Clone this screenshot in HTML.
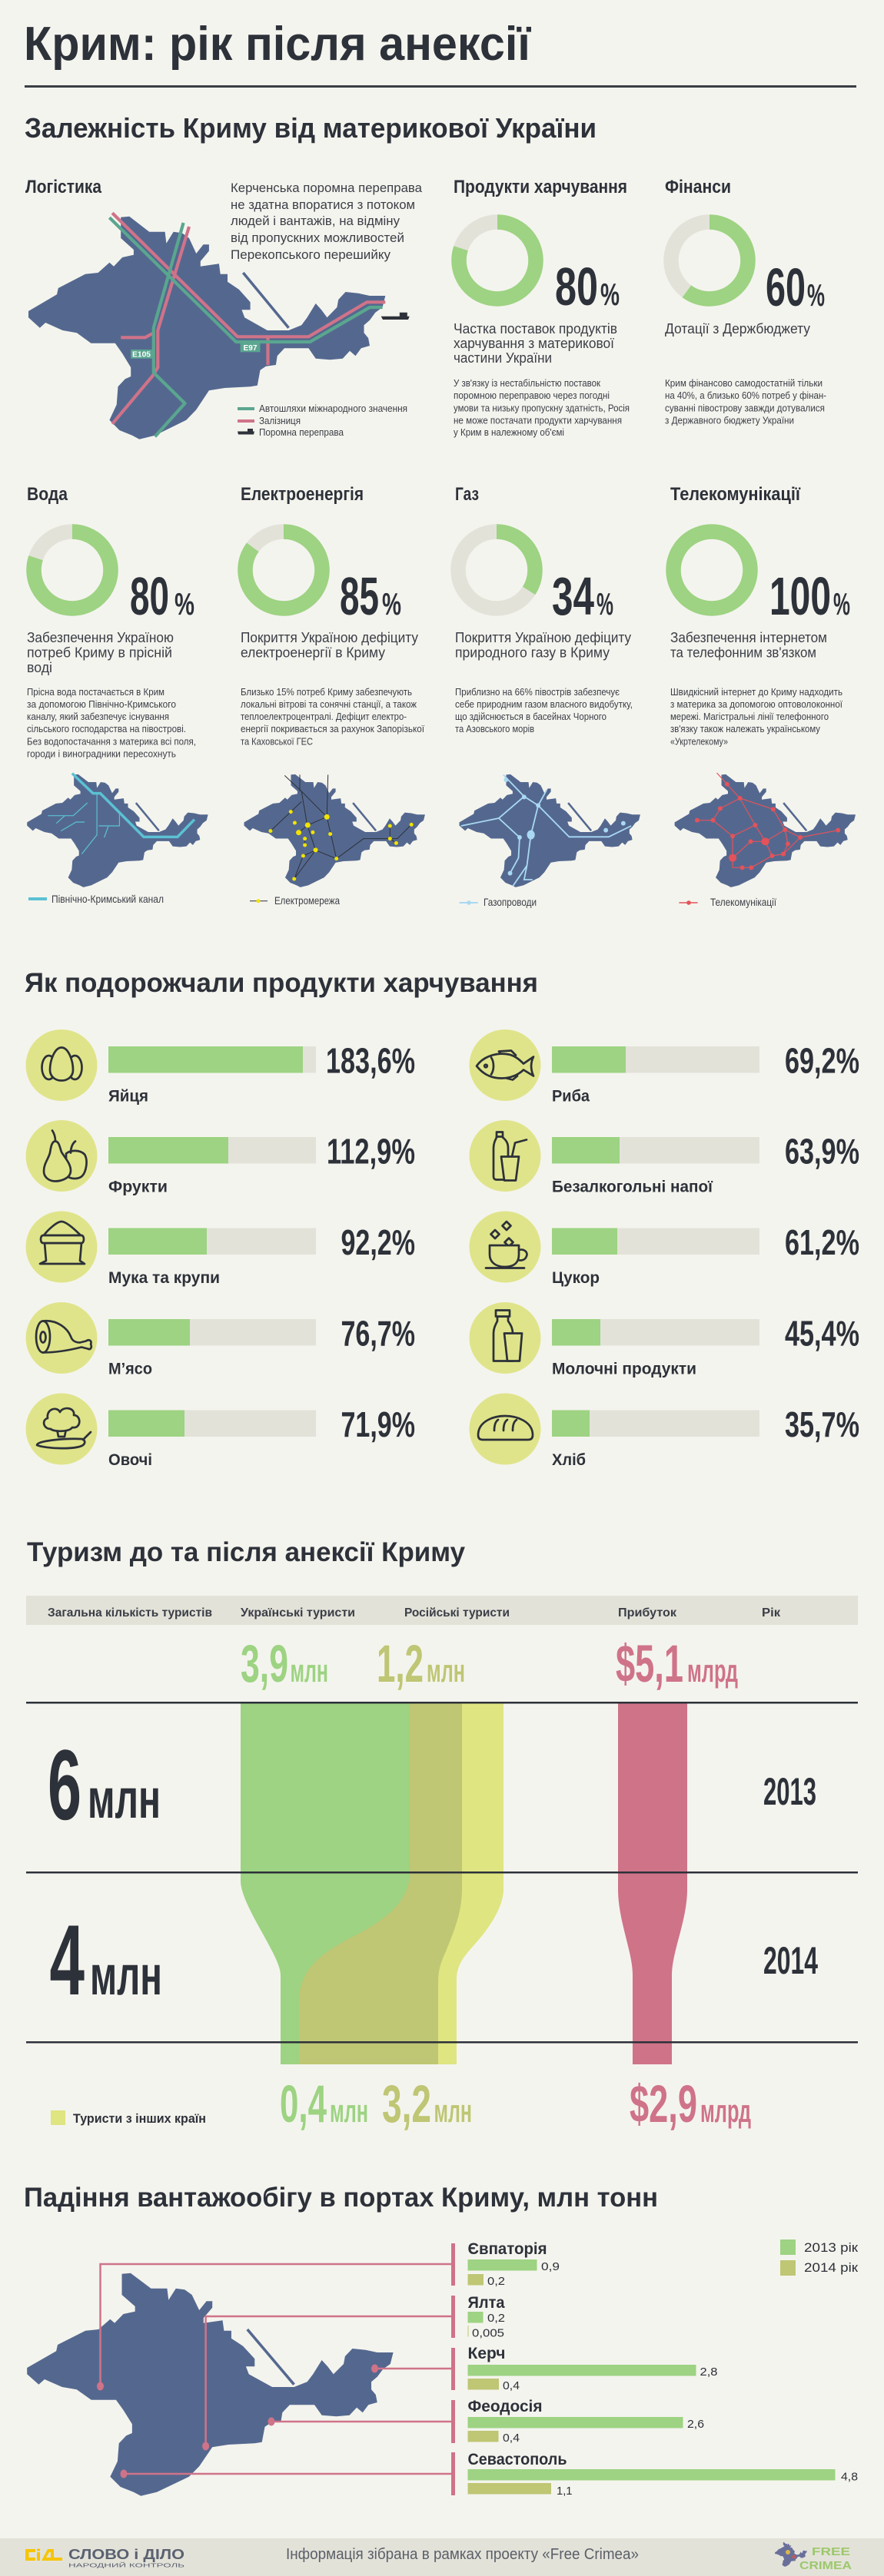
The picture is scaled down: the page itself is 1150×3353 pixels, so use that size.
<!DOCTYPE html>
<html><head><meta charset="utf-8">
<style>
html,body{margin:0;padding:0;background:#f4f4ee;}
svg{display:block;}
text{font-family:"Liberation Sans","DejaVu Sans",sans-serif;}
</style></head>
<body>
<svg xmlns="http://www.w3.org/2000/svg" width="1150" height="3353" viewBox="0 0 1150 3353">
<rect width="1150" height="3353" fill="#f4f4ee"/>

<!-- HEADER -->
<g fill="#2d3139" font-weight="bold">
<text x="31" y="78" font-size="62" textLength="659" lengthAdjust="spacingAndGlyphs">Крим: рік після анексії</text>
<text x="32" y="179" font-size="36" textLength="744" lengthAdjust="spacingAndGlyphs">Залежність Криму від материкової України</text>
<text x="33" y="251" font-size="24" textLength="99" lengthAdjust="spacingAndGlyphs">Логістика</text>
<text x="590" y="251" font-size="24" textLength="226" lengthAdjust="spacingAndGlyphs">Продукти харчування</text>
<text x="865" y="251" font-size="24" textLength="86" lengthAdjust="spacingAndGlyphs">Фінанси</text>
</g>
<rect x="32" y="111" width="1082" height="3" fill="#3a3e46"/>

<!-- Logistics paragraph -->
<g fill="#3a3e46" font-size="17">
<text x="300" y="250" textLength="249" lengthAdjust="spacingAndGlyphs">Керченська поромна переправа</text>
<text x="300" y="272" textLength="240" lengthAdjust="spacingAndGlyphs">не здатна впоратися з потоком</text>
<text x="300" y="293" textLength="220" lengthAdjust="spacingAndGlyphs">людей і вантажів, на відміну</text>
<text x="300" y="315" textLength="226" lengthAdjust="spacingAndGlyphs">від пропускних можливостей</text>
<text x="300" y="337" textLength="208" lengthAdjust="spacingAndGlyphs">Перекопського перешийку</text>
</g>

<!-- BIG MAP -->
<path fill="#54688f" d="M157.2,282.7 L168.3,281.7 L194.2,301.7 L214.6,301.7 L216.4,316.7 L225.7,301.7 L236.8,303.3 L246,310 L255.3,330 L264.5,318.3 L271.9,318.3 L271.9,326.7 L260.8,340 L260.8,346.7 L284.9,343.3 L286.7,356.7 L296,356.7 L296,366.7 L310.8,376.7 L325.6,393.3 L325.6,403.3 L314.5,403.3 L318.2,413.3 L347.8,430 L375.5,430 L392.2,423.3 L399.6,413.3 L410.7,395 L418.1,403.3 L425.5,413.3 L438.4,400 L440.2,390 L449.5,380 L466.2,381.7 L481,385 L501.3,385 L497.6,400 L488.3,406.7 L481,416.7 L473.5,423.3 L473.5,433.3 L479.1,440 L481,450 L469.8,453.3 L462.5,463.3 L455,456.7 L445.8,466.7 L429.2,468.3 L410.7,466.7 L401.4,453.3 L370,453.3 L360.7,463.3 L358.9,475 L345.9,476.7 L338.5,481.7 L334.8,501.7 L325.6,503.3 L292.3,505 L271.9,508.3 L255.3,533.3 L242.3,546.7 L222,556.7 L201.6,566.7 L181.3,571.7 L172,566.7 L155.4,560 L142.4,546.7 L151.7,526.7 L153.5,503.3 L162.8,493.3 L170.2,490 L170.2,478.3 L159.1,460 L149.8,446.7 L118.4,446.7 L99.9,433.3 L81.4,430 L59.2,420 L51.8,426.7 L37,413.3 L37,405 L74,383.3 L75.8,375 L111,356.7 L127.6,355 L142.4,341.7 L148,346.7 L159.1,335 L173.9,331.7 L173.9,325 L157.2,310 Z"/>
<line x1="316.3" y1="355" x2="375.5" y2="426.7" stroke="#54688f" stroke-width="3.5"/>
<g fill="none" stroke-width="4.2" stroke-linejoin="round">
<polyline stroke="#cf7389" points="146.1,277.3 308.9,438.3 401.4,438.3 477.2,393.3 501.3,393.3"/>
<polyline stroke="#cf7389" points="246,295 205.3,430 205.3,478.3 197.9,490 146.1,551.7"/>
<polyline stroke="#cf7389" points="157.2,439.3 188.7,439.3 199.8,433.3"/>
<polyline stroke="#cf7389" points="348.5,439.3 348.5,475"/>
<polyline stroke="#5aa68f" points="142.4,283.3 307.1,445 403.3,445 481,400 497.6,400"/>
<polyline stroke="#5aa68f" points="238.6,290 199.8,426.7 199.8,485 240.5,525 201.6,568.3"/>
</g>
<rect x="170.2" y="455" width="27.7" height="11.7" fill="#5aa68f"/>
<text x="184" y="464.5" font-size="10" font-weight="bold" fill="#fff" text-anchor="middle" textLength="24" lengthAdjust="spacingAndGlyphs">E105</text>
<rect x="312.6" y="446.7" width="25.9" height="11.6" fill="#5aa68f"/>
<text x="325.5" y="456" font-size="10" font-weight="bold" fill="#fff" text-anchor="middle" textLength="18" lengthAdjust="spacingAndGlyphs">E97</text>
<path d="M495.7,411.7 H532.7 L531,416 H498 Z M519.8,406.7 H529.8 V411.7 H519.8 Z" fill="#2d3139"/>
<line x1="309" y1="532" x2="331" y2="532" stroke="#5aa68f" stroke-width="4"/>
<line x1="309" y1="548" x2="331" y2="548" stroke="#cf7389" stroke-width="4"/>
<path d="M309,561.5 H331 L330,565.5 H310 Z M322,558 H329 V561.5 H322 Z" fill="#2d3139"/>
<g fill="#3a3e46" font-size="13">
<text x="337" y="536" textLength="193" lengthAdjust="spacingAndGlyphs">Автошляхи міжнародного значення</text>
<text x="337" y="552" textLength="54" lengthAdjust="spacingAndGlyphs">Залізниця</text>
<text x="337" y="567" textLength="110" lengthAdjust="spacingAndGlyphs">Поромна переправа</text>
</g>

<!-- DONUTS TOP -->
<g fill="none" stroke-width="19.5">
<circle cx="647" cy="339" r="50" stroke="#e3e2d9"/>
<circle cx="647" cy="339" r="50" stroke="#9dd382" stroke-dasharray="251.3 314.2" transform="rotate(-90 647 339)"/>
<circle cx="923" cy="339" r="50" stroke="#e3e2d9"/>
<circle cx="923" cy="339" r="50" stroke="#9dd382" stroke-dasharray="188.5 314.2" transform="rotate(-90 923 339)"/>
</g>
<g fill="#2d3139" font-weight="bold">
<text x="722" y="397" font-size="70" textLength="56" lengthAdjust="spacingAndGlyphs">80</text>
<text x="781" y="397" font-size="41" textLength="25" lengthAdjust="spacingAndGlyphs">%</text>
<text x="996" y="398" font-size="70" textLength="52" lengthAdjust="spacingAndGlyphs">60</text>
<text x="1050" y="398" font-size="41" textLength="23" lengthAdjust="spacingAndGlyphs">%</text>
</g>
<g fill="#3a3e46" font-size="18">
<text x="590" y="434" textLength="213" lengthAdjust="spacingAndGlyphs">Частка поставок продуктів</text>
<text x="590" y="453" textLength="209" lengthAdjust="spacingAndGlyphs">харчування з материкової</text>
<text x="590" y="472" textLength="128" lengthAdjust="spacingAndGlyphs">частини України</text>
<text x="865" y="434" textLength="189" lengthAdjust="spacingAndGlyphs">Дотації з Держбюджету</text>
</g>
<g fill="#3a3e46" font-size="12.5">
<text x="590" y="503" textLength="191" lengthAdjust="spacingAndGlyphs">У зв'язку із нестабільністю поставок</text>
<text x="590" y="519" textLength="203" lengthAdjust="spacingAndGlyphs">поромною переправою через погодні</text>
<text x="590" y="535.5" textLength="229" lengthAdjust="spacingAndGlyphs">умови та низьку пропускну здатність, Росія</text>
<text x="590" y="551.5" textLength="219" lengthAdjust="spacingAndGlyphs">не може постачати продукти харчування</text>
<text x="590" y="567" textLength="144" lengthAdjust="spacingAndGlyphs">у Крим в належному об'ємі</text>
<text x="865" y="503" textLength="205" lengthAdjust="spacingAndGlyphs">Крим фінансово самодостатній тільки</text>
<text x="865" y="519" textLength="210" lengthAdjust="spacingAndGlyphs">на 40%, а близько 60% потреб у фінан-</text>
<text x="865" y="535.5" textLength="208" lengthAdjust="spacingAndGlyphs">суванні півострову завжди дотувалися</text>
<text x="865" y="551.5" textLength="168" lengthAdjust="spacingAndGlyphs">з Державного бюджету України</text>
</g>

<!-- BOTTOM ROW -->
<g fill="#2d3139" font-weight="bold" font-size="24">
<text x="35" y="651" textLength="53" lengthAdjust="spacingAndGlyphs">Вода</text>
<text x="313" y="651" textLength="160" lengthAdjust="spacingAndGlyphs">Електроенергія</text>
<text x="592" y="651" textLength="31" lengthAdjust="spacingAndGlyphs">Газ</text>
<text x="872" y="651" textLength="169" lengthAdjust="spacingAndGlyphs">Телекомунікації</text>
</g>
<g fill="none" stroke-width="19.5">
<circle cx="94" cy="742" r="50" stroke="#e3e2d9"/>
<circle cx="94" cy="742" r="50" stroke="#9dd382" stroke-dasharray="251.3 314.2" transform="rotate(-90 94 742)"/>
<circle cx="369" cy="742" r="50" stroke="#e3e2d9"/>
<circle cx="369" cy="742" r="50" stroke="#9dd382" stroke-dasharray="267 314.2" transform="rotate(-90 369 742)"/>
<circle cx="646" cy="742" r="50" stroke="#e3e2d9"/>
<circle cx="646" cy="742" r="50" stroke="#9dd382" stroke-dasharray="106.8 314.2" transform="rotate(-90 646 742)"/>
<circle cx="926" cy="742" r="50" stroke="#9dd382"/>
</g>
<g fill="#2d3139" font-weight="bold">
<text x="169" y="800" font-size="70" textLength="51" lengthAdjust="spacingAndGlyphs">80</text>
<text x="227" y="800" font-size="41" textLength="26" lengthAdjust="spacingAndGlyphs">%</text>
<text x="442" y="800" font-size="70" textLength="51" lengthAdjust="spacingAndGlyphs">85</text>
<text x="497" y="800" font-size="41" textLength="25" lengthAdjust="spacingAndGlyphs">%</text>
<text x="718" y="800" font-size="70" textLength="55" lengthAdjust="spacingAndGlyphs">34</text>
<text x="776" y="800" font-size="41" textLength="22" lengthAdjust="spacingAndGlyphs">%</text>
<text x="1001" y="800" font-size="70" textLength="80" lengthAdjust="spacingAndGlyphs">100</text>
<text x="1084" y="800" font-size="41" textLength="22" lengthAdjust="spacingAndGlyphs">%</text>
</g>
<g fill="#3a3e46" font-size="18">
<text x="35" y="836" textLength="191" lengthAdjust="spacingAndGlyphs">Забезпечення Україною</text>
<text x="35" y="855.5" textLength="189" lengthAdjust="spacingAndGlyphs">потреб Криму в прісній</text>
<text x="35" y="875" textLength="33" lengthAdjust="spacingAndGlyphs">воді</text>
<text x="313" y="836" textLength="231" lengthAdjust="spacingAndGlyphs">Покриття Україною дефіциту</text>
<text x="313" y="855.5" textLength="188" lengthAdjust="spacingAndGlyphs">електроенергії в Криму</text>
<text x="592" y="836" textLength="229" lengthAdjust="spacingAndGlyphs">Покриття Україною дефіциту</text>
<text x="592" y="855.5" textLength="201" lengthAdjust="spacingAndGlyphs">природного газу в Криму</text>
<text x="872" y="836" textLength="204" lengthAdjust="spacingAndGlyphs">Забезпечення інтернетом</text>
<text x="872" y="855.5" textLength="190" lengthAdjust="spacingAndGlyphs">та телефонним зв'язком</text>
</g>
<g fill="#3a3e46" font-size="12.5">
<text x="35" y="905" textLength="179" lengthAdjust="spacingAndGlyphs">Прісна вода постачається в Крим</text>
<text x="35" y="921" textLength="194" lengthAdjust="spacingAndGlyphs">за допомогою Північно-Кримського</text>
<text x="35" y="937" textLength="185" lengthAdjust="spacingAndGlyphs">каналу, який забезпечує існування</text>
<text x="35" y="953" textLength="207" lengthAdjust="spacingAndGlyphs">сільського господарства на півострові.</text>
<text x="35" y="969.5" textLength="220" lengthAdjust="spacingAndGlyphs">Без водопостачання з материка всі поля,</text>
<text x="35" y="985.5" textLength="194" lengthAdjust="spacingAndGlyphs">городи і виноградники пересохнуть</text>
<text x="313" y="905" textLength="223" lengthAdjust="spacingAndGlyphs">Близько 15% потреб Криму забезпечують</text>
<text x="313" y="921" textLength="229" lengthAdjust="spacingAndGlyphs">локальні вітрові та сонячні станції, а також</text>
<text x="313" y="937" textLength="216" lengthAdjust="spacingAndGlyphs">теплоелектроцентралі. Дефіцит електро-</text>
<text x="313" y="953" textLength="239" lengthAdjust="spacingAndGlyphs">енергії покривається за рахунок Запорізької</text>
<text x="313" y="969.5" textLength="94" lengthAdjust="spacingAndGlyphs">та Каховської ГЕС</text>
<text x="592" y="905" textLength="214" lengthAdjust="spacingAndGlyphs">Приблизно на 66% півострів забезпечує</text>
<text x="592" y="921" textLength="231" lengthAdjust="spacingAndGlyphs">себе природним газом власного видобутку,</text>
<text x="592" y="937" textLength="197" lengthAdjust="spacingAndGlyphs">що здійснюється в басейнах Чорного</text>
<text x="592" y="953" textLength="103" lengthAdjust="spacingAndGlyphs">та Азовського морів</text>
<text x="872" y="905" textLength="224" lengthAdjust="spacingAndGlyphs">Швидкісний інтернет до Криму надходить</text>
<text x="872" y="921" textLength="224" lengthAdjust="spacingAndGlyphs">з материка за допомогою оптоволоконної</text>
<text x="872" y="937" textLength="206" lengthAdjust="spacingAndGlyphs">мережі. Магістральні лінії телефонного</text>
<text x="872" y="953" textLength="195" lengthAdjust="spacingAndGlyphs">зв'язку також належать українському</text>
<text x="872" y="969.5" textLength="75" lengthAdjust="spacingAndGlyphs">«Укртелекому»</text>
</g>

<!-- SMALL MAPS -->
<g transform="translate(35.2,1008) scale(0.507) translate(-37,-282)">
<path d="M157.2,282.7 L168.3,281.7 L194.2,301.7 L214.6,301.7 L216.4,316.7 L225.7,301.7 L236.8,303.3 L246,310 L255.3,330 L264.5,318.3 L271.9,318.3 L271.9,326.7 L260.8,340 L260.8,346.7 L284.9,343.3 L286.7,356.7 L296,356.7 L296,366.7 L310.8,376.7 L325.6,393.3 L325.6,403.3 L314.5,403.3 L318.2,413.3 L347.8,430 L375.5,430 L392.2,423.3 L399.6,413.3 L410.7,395 L418.1,403.3 L425.5,413.3 L438.4,400 L440.2,390 L449.5,380 L466.2,381.7 L481,385 L501.3,385 L497.6,400 L488.3,406.7 L481,416.7 L473.5,423.3 L473.5,433.3 L479.1,440 L481,450 L469.8,453.3 L462.5,463.3 L455,456.7 L445.8,466.7 L429.2,468.3 L410.7,466.7 L401.4,453.3 L370,453.3 L360.7,463.3 L358.9,475 L345.9,476.7 L338.5,481.7 L334.8,501.7 L325.6,503.3 L292.3,505 L271.9,508.3 L255.3,533.3 L242.3,546.7 L222,556.7 L201.6,566.7 L181.3,571.7 L172,566.7 L155.4,560 L142.4,546.7 L151.7,526.7 L153.5,503.3 L162.8,493.3 L170.2,490 L170.2,478.3 L159.1,460 L149.8,446.7 L118.4,446.7 L99.9,433.3 L81.4,430 L59.2,420 L51.8,426.7 L37,413.3 L37,405 L74,383.3 L75.8,375 L111,356.7 L127.6,355 L142.4,341.7 L148,346.7 L159.1,335 L173.9,331.7 L173.9,325 L157.2,310 Z" fill="#54688f"/>
<line x1="316.3" y1="355" x2="375.5" y2="426.7" stroke="#54688f" stroke-width="5"/>
</g>
<g transform="translate(317.5,1008) scale(0.507) translate(-37,-282)">
<path d="M157.2,282.7 L168.3,281.7 L194.2,301.7 L214.6,301.7 L216.4,316.7 L225.7,301.7 L236.8,303.3 L246,310 L255.3,330 L264.5,318.3 L271.9,318.3 L271.9,326.7 L260.8,340 L260.8,346.7 L284.9,343.3 L286.7,356.7 L296,356.7 L296,366.7 L310.8,376.7 L325.6,393.3 L325.6,403.3 L314.5,403.3 L318.2,413.3 L347.8,430 L375.5,430 L392.2,423.3 L399.6,413.3 L410.7,395 L418.1,403.3 L425.5,413.3 L438.4,400 L440.2,390 L449.5,380 L466.2,381.7 L481,385 L501.3,385 L497.6,400 L488.3,406.7 L481,416.7 L473.5,423.3 L473.5,433.3 L479.1,440 L481,450 L469.8,453.3 L462.5,463.3 L455,456.7 L445.8,466.7 L429.2,468.3 L410.7,466.7 L401.4,453.3 L370,453.3 L360.7,463.3 L358.9,475 L345.9,476.7 L338.5,481.7 L334.8,501.7 L325.6,503.3 L292.3,505 L271.9,508.3 L255.3,533.3 L242.3,546.7 L222,556.7 L201.6,566.7 L181.3,571.7 L172,566.7 L155.4,560 L142.4,546.7 L151.7,526.7 L153.5,503.3 L162.8,493.3 L170.2,490 L170.2,478.3 L159.1,460 L149.8,446.7 L118.4,446.7 L99.9,433.3 L81.4,430 L59.2,420 L51.8,426.7 L37,413.3 L37,405 L74,383.3 L75.8,375 L111,356.7 L127.6,355 L142.4,341.7 L148,346.7 L159.1,335 L173.9,331.7 L173.9,325 L157.2,310 Z" fill="#54688f"/>
<line x1="316.3" y1="355" x2="375.5" y2="426.7" stroke="#54688f" stroke-width="5"/>
</g>
<g transform="translate(597.5,1008) scale(0.507) translate(-37,-282)">
<path d="M157.2,282.7 L168.3,281.7 L194.2,301.7 L214.6,301.7 L216.4,316.7 L225.7,301.7 L236.8,303.3 L246,310 L255.3,330 L264.5,318.3 L271.9,318.3 L271.9,326.7 L260.8,340 L260.8,346.7 L284.9,343.3 L286.7,356.7 L296,356.7 L296,366.7 L310.8,376.7 L325.6,393.3 L325.6,403.3 L314.5,403.3 L318.2,413.3 L347.8,430 L375.5,430 L392.2,423.3 L399.6,413.3 L410.7,395 L418.1,403.3 L425.5,413.3 L438.4,400 L440.2,390 L449.5,380 L466.2,381.7 L481,385 L501.3,385 L497.6,400 L488.3,406.7 L481,416.7 L473.5,423.3 L473.5,433.3 L479.1,440 L481,450 L469.8,453.3 L462.5,463.3 L455,456.7 L445.8,466.7 L429.2,468.3 L410.7,466.7 L401.4,453.3 L370,453.3 L360.7,463.3 L358.9,475 L345.9,476.7 L338.5,481.7 L334.8,501.7 L325.6,503.3 L292.3,505 L271.9,508.3 L255.3,533.3 L242.3,546.7 L222,556.7 L201.6,566.7 L181.3,571.7 L172,566.7 L155.4,560 L142.4,546.7 L151.7,526.7 L153.5,503.3 L162.8,493.3 L170.2,490 L170.2,478.3 L159.1,460 L149.8,446.7 L118.4,446.7 L99.9,433.3 L81.4,430 L59.2,420 L51.8,426.7 L37,413.3 L37,405 L74,383.3 L75.8,375 L111,356.7 L127.6,355 L142.4,341.7 L148,346.7 L159.1,335 L173.9,331.7 L173.9,325 L157.2,310 Z" fill="#54688f"/>
<line x1="316.3" y1="355" x2="375.5" y2="426.7" stroke="#54688f" stroke-width="5"/>
</g>
<g transform="translate(877.6,1008) scale(0.507) translate(-37,-282)">
<path d="M157.2,282.7 L168.3,281.7 L194.2,301.7 L214.6,301.7 L216.4,316.7 L225.7,301.7 L236.8,303.3 L246,310 L255.3,330 L264.5,318.3 L271.9,318.3 L271.9,326.7 L260.8,340 L260.8,346.7 L284.9,343.3 L286.7,356.7 L296,356.7 L296,366.7 L310.8,376.7 L325.6,393.3 L325.6,403.3 L314.5,403.3 L318.2,413.3 L347.8,430 L375.5,430 L392.2,423.3 L399.6,413.3 L410.7,395 L418.1,403.3 L425.5,413.3 L438.4,400 L440.2,390 L449.5,380 L466.2,381.7 L481,385 L501.3,385 L497.6,400 L488.3,406.7 L481,416.7 L473.5,423.3 L473.5,433.3 L479.1,440 L481,450 L469.8,453.3 L462.5,463.3 L455,456.7 L445.8,466.7 L429.2,468.3 L410.7,466.7 L401.4,453.3 L370,453.3 L360.7,463.3 L358.9,475 L345.9,476.7 L338.5,481.7 L334.8,501.7 L325.6,503.3 L292.3,505 L271.9,508.3 L255.3,533.3 L242.3,546.7 L222,556.7 L201.6,566.7 L181.3,571.7 L172,566.7 L155.4,560 L142.4,546.7 L151.7,526.7 L153.5,503.3 L162.8,493.3 L170.2,490 L170.2,478.3 L159.1,460 L149.8,446.7 L118.4,446.7 L99.9,433.3 L81.4,430 L59.2,420 L51.8,426.7 L37,413.3 L37,405 L74,383.3 L75.8,375 L111,356.7 L127.6,355 L142.4,341.7 L148,346.7 L159.1,335 L173.9,331.7 L173.9,325 L157.2,310 Z" fill="#54688f"/>
<line x1="316.3" y1="355" x2="375.5" y2="426.7" stroke="#54688f" stroke-width="5"/>
</g>

<g transform="translate(0,990) scale(0.73314,0.33333)" fill="none">
<polyline vector-effect="non-scaling-stroke" stroke="#5bc1d3" stroke-width="3.5" points="128,50 165,128 178,128 255,298 315,298 345,230"/>
<g stroke="#5bc1d3" stroke-width="1.2">
<polyline vector-effect="non-scaling-stroke" points="172,128 172,290 145,365"/>
<polyline vector-effect="non-scaling-stroke" points="85,215 130,215 155,165"/>
<polyline vector-effect="non-scaling-stroke" points="100,245 115,215"/>
<polyline vector-effect="non-scaling-stroke" points="108,275 135,240 150,240"/>
<polyline vector-effect="non-scaling-stroke" points="175,255 212,255 212,200"/>
<polyline vector-effect="non-scaling-stroke" points="185,300 192,258"/>
</g>
<g stroke="#2d3139" stroke-width="1">
<polyline vector-effect="non-scaling-stroke" points="505,58 535,120 580,220 597,383"/>
<polyline vector-effect="non-scaling-stroke" points="532,55 532,120"/>
<polyline vector-effect="non-scaling-stroke" points="582,55 580,220"/>
<polyline vector-effect="non-scaling-stroke" points="535,120 545,250 560,350 522,462"/>
<polyline vector-effect="non-scaling-stroke" points="480,275 516,200 535,160"/>
<polyline vector-effect="non-scaling-stroke" points="580,220 546,252 530,281"/>
<polyline vector-effect="non-scaling-stroke" points="560,350 538,372 522,462"/>
<polyline vector-effect="non-scaling-stroke" points="560,350 597,383 645,305 705,305 730,250"/>
<polyline vector-effect="non-scaling-stroke" points="692,255 692,305 703,322"/>
<polyline vector-effect="non-scaling-stroke" points="541,305 541,330"/>
</g>
<g fill="#f2e300">
<ellipse cx="516" cy="200" rx="3.4" ry="7.5"/><ellipse cx="523" cy="243" rx="3.4" ry="7.5"/>
<ellipse cx="546" cy="252" rx="4.8" ry="10.5"/><ellipse cx="530" cy="281" rx="4.8" ry="10.5"/>
<ellipse cx="555" cy="280" rx="3.4" ry="7.5"/><ellipse cx="541" cy="305" rx="3.4" ry="7.5"/>
<ellipse cx="541" cy="330" rx="3.4" ry="7.5"/><ellipse cx="560" cy="349" rx="4.1" ry="9"/>
<ellipse cx="538" cy="372" rx="3.4" ry="7.5"/><ellipse cx="597" cy="383" rx="3.4" ry="7.5"/>
<ellipse cx="522" cy="462" rx="3.4" ry="7.5"/><ellipse cx="480" cy="275" rx="3.4" ry="7.5"/>
<ellipse cx="580" cy="220" rx="4.8" ry="10.5"/><ellipse cx="586" cy="287" rx="3.4" ry="7.5"/>
<ellipse cx="692" cy="255" rx="3.4" ry="7.5"/><ellipse cx="692" cy="305" rx="3.4" ry="7.5"/>
<ellipse cx="703" cy="322" rx="3.4" ry="7.5"/><ellipse cx="730" cy="250" rx="3.4" ry="7.5"/>
</g>
<g stroke="#a9d9f2" stroke-width="1.8">
<polyline vector-effect="non-scaling-stroke" points="893,55 930,140 955,175 970,115"/>
<polyline vector-effect="non-scaling-stroke" points="930,140 885,225 818,255"/>
<polyline vector-effect="non-scaling-stroke" points="885,225 922,300 920,380 905,440"/>
<polyline vector-effect="non-scaling-stroke" points="955,175 942,290 935,410 910,490"/>
<polyline vector-effect="non-scaling-stroke" points="955,175 1010,298 1080,298 1120,255"/>
<polyline vector-effect="non-scaling-stroke" points="935,410 930,465 945,465"/>
</g>
<g fill="#a9d9f2">
<ellipse cx="898" cy="75" rx="4" ry="9"/><ellipse cx="930" cy="142" rx="4" ry="9"/>
<ellipse cx="955" cy="175" rx="4" ry="9"/><ellipse cx="942" cy="290" rx="7" ry="18"/>
<ellipse cx="922" cy="300" rx="4" ry="9"/><ellipse cx="905" cy="440" rx="4" ry="9"/>
<ellipse cx="1075" cy="272" rx="4" ry="9"/><ellipse cx="1106" cy="245" rx="4" ry="9"/>
</g>
<g stroke="#e4525a" stroke-width="1.2">
<polyline vector-effect="non-scaling-stroke" points="1272,48 1290,92 1313,147 1372,190 1393,270 1398,325 1390,365"/>
<polyline vector-effect="non-scaling-stroke" points="1313,147 1278,187 1265,233 1237,233"/>
<polyline vector-effect="non-scaling-stroke" points="1313,147 1340,252 1358,316 1370,372"/>
<polyline vector-effect="non-scaling-stroke" points="1265,233 1300,295 1340,252"/>
<polyline vector-effect="non-scaling-stroke" points="1300,295 1300,380 1300,418 1333,418"/>
<polyline vector-effect="non-scaling-stroke" points="1332,316 1300,380"/>
<polyline vector-effect="non-scaling-stroke" points="1332,316 1358,316 1393,270 1420,300 1487,272"/>
<polyline vector-effect="non-scaling-stroke" points="1333,418 1370,372 1390,365 1420,300"/>
</g>
<g fill="#e4525a">
<ellipse cx="1290" cy="92" rx="4" ry="9"/><ellipse cx="1313" cy="147" rx="4" ry="9"/>
<ellipse cx="1278" cy="187" rx="4" ry="9"/><ellipse cx="1265" cy="233" rx="4" ry="9"/>
<ellipse cx="1237" cy="233" rx="4" ry="9"/><ellipse cx="1372" cy="190" rx="4" ry="9"/>
<ellipse cx="1340" cy="252" rx="4" ry="9"/><ellipse cx="1300" cy="295" rx="4" ry="9"/>
<ellipse cx="1358" cy="316" rx="7" ry="15"/><ellipse cx="1332" cy="316" rx="4" ry="9"/>
<ellipse cx="1300" cy="380" rx="7" ry="15"/><ellipse cx="1317" cy="418" rx="4" ry="9"/>
<ellipse cx="1333" cy="418" rx="4" ry="9"/><ellipse cx="1370" cy="372" rx="4" ry="9"/>
<ellipse cx="1390" cy="365" rx="4" ry="9"/><ellipse cx="1398" cy="325" rx="4" ry="9"/>
<ellipse cx="1393" cy="270" rx="4" ry="9"/><ellipse cx="1420" cy="300" rx="4" ry="9"/>
<ellipse cx="1487" cy="272" rx="4" ry="9"/>
</g>
</g>
<line x1="37" y1="1170" x2="61" y2="1170" stroke="#5bc1d3" stroke-width="4"/>
<line x1="325" y1="1172.7" x2="348" y2="1172.7" stroke="#2d3139" stroke-width="1"/>
<circle cx="336" cy="1172.7" r="2.5" fill="#f2e300"/>
<line x1="597.5" y1="1175" x2="621.7" y2="1175" stroke="#a9d9f2" stroke-width="2"/>
<circle cx="610" cy="1175" r="2.8" fill="#a9d9f2"/>
<line x1="883.4" y1="1175" x2="907.6" y2="1175" stroke="#e4525a" stroke-width="1.5"/>
<circle cx="896" cy="1175" r="2.8" fill="#e4525a"/>
<g fill="#3a3e46" font-size="14">
<text x="67" y="1175" textLength="146" lengthAdjust="spacingAndGlyphs">Північно-Кримський канал</text>
<text x="357" y="1177" textLength="85" lengthAdjust="spacingAndGlyphs">Електромережа</text>
<text x="629" y="1179" textLength="69" lengthAdjust="spacingAndGlyphs">Газопроводи</text>
<text x="924" y="1179" textLength="86" lengthAdjust="spacingAndGlyphs">Телекомунікації</text>
</g>

<!-- FOOD SECTION -->
<text x="32" y="1291" font-size="35" font-weight="bold" fill="#2d3139" textLength="668" lengthAdjust="spacingAndGlyphs">Як подорожчали продукти харчування</text>
<g fill="#dfe48a">
<circle cx="80" cy="1386.5" r="46.5"/><circle cx="80" cy="1504.5" r="46.5"/><circle cx="80" cy="1623" r="46.5"/><circle cx="80" cy="1741.5" r="46.5"/><circle cx="80" cy="1860" r="46.5"/>
<circle cx="657" cy="1386.5" r="46.5"/><circle cx="657" cy="1504.5" r="46.5"/><circle cx="657" cy="1623" r="46.5"/><circle cx="657" cy="1741.5" r="46.5"/><circle cx="657" cy="1860" r="46.5"/>
</g>
<g fill="#e3e2d9">
<rect x="141" y="1362" width="270" height="34.5"/><rect x="141" y="1480" width="270" height="34.5"/><rect x="141" y="1598.5" width="270" height="34.5"/><rect x="141" y="1717" width="270" height="34.5"/><rect x="141" y="1835.5" width="270" height="34.5"/>
<rect x="718" y="1362" width="270" height="34.5"/><rect x="718" y="1480" width="270" height="34.5"/><rect x="718" y="1598.5" width="270" height="34.5"/><rect x="718" y="1717" width="270" height="34.5"/><rect x="718" y="1835.5" width="270" height="34.5"/>
</g>
<g fill="#9dd382">
<rect x="141" y="1362" width="253" height="34.5"/><rect x="141" y="1480" width="156" height="34.5"/><rect x="141" y="1598.5" width="128" height="34.5"/><rect x="141" y="1717" width="106" height="34.5"/><rect x="141" y="1835.5" width="99" height="34.5"/>
<rect x="718" y="1362" width="96" height="34.5"/><rect x="718" y="1480" width="88" height="34.5"/><rect x="718" y="1598.5" width="85" height="34.5"/><rect x="718" y="1717" width="63" height="34.5"/><rect x="718" y="1835.5" width="49" height="34.5"/>
</g>
<g fill="#2d3139" font-size="46" font-weight="bold" text-anchor="end">
<text x="540" y="1396.5" textLength="116" lengthAdjust="spacingAndGlyphs">183,6%</text>
<text x="540" y="1514.5" textLength="115" lengthAdjust="spacingAndGlyphs">112,9%</text>
<text x="540" y="1633" textLength="96.5" lengthAdjust="spacingAndGlyphs">92,2%</text>
<text x="540" y="1751.5" textLength="96.5" lengthAdjust="spacingAndGlyphs">76,7%</text>
<text x="540" y="1870" textLength="96.5" lengthAdjust="spacingAndGlyphs">71,9%</text>
<text x="1118" y="1396.5" textLength="97" lengthAdjust="spacingAndGlyphs">69,2%</text>
<text x="1118" y="1514.5" textLength="97" lengthAdjust="spacingAndGlyphs">63,9%</text>
<text x="1118" y="1633" textLength="97" lengthAdjust="spacingAndGlyphs">61,2%</text>
<text x="1118" y="1751.5" textLength="97" lengthAdjust="spacingAndGlyphs">45,4%</text>
<text x="1118" y="1870" textLength="97" lengthAdjust="spacingAndGlyphs">35,7%</text>
</g>
<g fill="#2d3139" font-size="21" font-weight="bold">
<text x="141" y="1433.5" textLength="52" lengthAdjust="spacingAndGlyphs">Яйця</text>
<text x="141" y="1551.5" textLength="77" lengthAdjust="spacingAndGlyphs">Фрукти</text>
<text x="141" y="1670" textLength="145" lengthAdjust="spacingAndGlyphs">Мука та крупи</text>
<text x="141" y="1788.5" textLength="57" lengthAdjust="spacingAndGlyphs">М’ясо</text>
<text x="141" y="1907" textLength="57" lengthAdjust="spacingAndGlyphs">Овочі</text>
<text x="718" y="1433.5" textLength="49" lengthAdjust="spacingAndGlyphs">Риба</text>
<text x="718" y="1551.5" textLength="209" lengthAdjust="spacingAndGlyphs">Безалкогольні напої</text>
<text x="718" y="1670" textLength="62" lengthAdjust="spacingAndGlyphs">Цукор</text>
<text x="718" y="1788.5" textLength="188" lengthAdjust="spacingAndGlyphs">Молочні продукти</text>
<text x="718" y="1907" textLength="44" lengthAdjust="spacingAndGlyphs">Хліб</text>
</g>
<!-- icons -->
<g stroke="#2d3139" stroke-width="2.7" fill="#dfe48a" stroke-linejoin="round" stroke-linecap="round">
<g transform="translate(80,1386.5)">
<ellipse cx="-16.5" cy="3" rx="9" ry="15.5"/><ellipse cx="17.5" cy="3" rx="9" ry="15.5"/>
<path d="M0,-23 C9,-23 15,-6 15,6 C15,15 8,20 0,20 C-8,20 -15,15 -15,6 C-15,-6 -9,-23 0,-23 Z"/>
</g>
<g transform="translate(80,1504.5)">
<path d="M6,-3 C12,-8 24,-8 30,-2 C35,6 32,22 26,27 C20,31 12,30 6,26 Z"/>
<path d="M12,-4 C12,-10 14,-16 18,-19" fill="none"/>
<path d="M-8,-19 C-3,-19 -2,-10 0,-5 C4,2 12,10 12,19 C12,30 -2,33 -8,33 C-16,33 -23,28 -23,20 C-23,10 -17,4 -15,-4 C-14,-10 -13,-19 -8,-19 Z"/>
<path d="M-8,-19 C-8,-26 -10,-30 -12,-33" fill="none"/>
</g>
<g transform="translate(80,1623)">
<path d="M-22,-5 L-20,18 L-28,22 H30 L24,18 L26,-5 Z"/>
<path d="M-23,-15 C-18,-22 -6,-33 0,-33 C6,-33 18,-22 25,-15 Z"/>
<path d="M-24,-15 H26 C30,-15 30,-5 26,-5 H-24 C-28,-5 -28,-15 -24,-15 Z"/>
</g>
<g transform="translate(80,1741.5)">
<path d="M-24,-22 C-5,-24 8,-12 12,-2 C14,4 18,6 24,6 L32,4 C36,1 40,4 38,8 C40,12 38,16 34,14 L26,12 C10,16 -6,19 -24,19 Z"/>
<ellipse cx="-24" cy="-1.5" rx="9" ry="20.5"/>
<ellipse cx="-24" cy="-1" rx="3.5" ry="7"/>
</g>
<g transform="translate(80,1860)">
<path d="M-6,0 L-4,10 H4 L6,0"/>
<path d="M-14,0 C-24,0 -26,-12 -18,-14 C-20,-26 -6,-30 -2,-22 C2,-30 18,-28 16,-18 C26,-18 26,0 14,-2 C10,4 -10,4 -14,0 Z"/>
<path d="M-32,21 C-32,15 6,12 26,13 C30,13 32,18 28,21 C20,27 -20,26 -32,21 Z"/>
<path d="M28,14 L38,4" fill="none"/>
</g>
<g transform="translate(657,1386.5)">
<path d="M-6,-15 L-8,-18 L8,-19 L14,-13"/>
<path d="M-2,16 L10,19 L16,14"/>
<path d="M-37,1 C-28,-12 -10,-17 5,-14 C14,-12 20,-6 24,-2 L37,-11 C33,-3 33,5 37,14 L24,6 C18,12 8,17 -5,17 C-20,17 -30,10 -37,1 Z"/>
<path d="M-18,-10 C-14,-4 -14,6 -18,12" fill="none"/>
<circle cx="-25" cy="1" r="1.8" fill="none"/>
</g>
<g transform="translate(657,1504.5)">
<path d="M-11,-31 H-3 V-24 C2,-20 4,-16 4,-10 V31 H-11 C-14,31 -15,29 -15,27 V-10 C-15,-16 -13,-20 -11,-24 Z"/>
<path d="M-11,-25 H-3" fill="none"/>
<path d="M9,1 L13,-17 L28,-21" fill="none"/>
<path d="M-5,1 H18 L14,32 H-1 Z"/>
</g>
<g transform="translate(657,1623)">
<path d="M-13,-22 L-7.5,-16.5 L-13,-11 L-18.5,-16.5 Z"/>
<path d="M2,-33 L7.5,-27.5 L2,-22 L-3.5,-27.5 Z"/>
<path d="M5,-11.5 L10.5,-6 L5,-0.5 L-0.5,-6 Z"/>
<path d="M18,4 C26,2 30,8 28,12 C26,18 20,18 17,17" fill="none"/>
<path d="M-20,-2 H18 V10 C18,20 12,26 0,26 C-12,26 -20,20 -20,10 Z"/>
<path d="M-25,27.5 H25" fill="none"/>
</g>
<g transform="translate(657,1741.5)">
<path d="M-10,-28 H4 V-22 C8,-16 10,-12 10,-6 V30 H-15 V-6 C-15,-12 -13,-16 -10,-22 Z"/>
<path d="M-12,-36 H6 V-28 H-12 Z"/>
<path d="M-1,-6 H22 L19,30 H3 Z"/>
</g>
<g transform="translate(657,1860)">
<path d="M-35,8 C-35,-10 -15,-17 0,-17 C15,-17 36,-10 36,8 C36,12 34,14 30,14 H-29 C-33,14 -35,12 -35,8 Z"/>
<path d="M-14,2 C-14,-6 -12,-10 -9,-12 M-2,2 C-2,-6 0,-10 3,-12 M10,2 C10,-6 12,-10 15,-12" fill="none"/>
</g>
</g>

<!-- TOURISM -->
<text x="35" y="2032" font-size="35" font-weight="bold" fill="#2d3139" textLength="570" lengthAdjust="spacingAndGlyphs">Туризм до та після анексії Криму</text>
<rect x="34" y="2077" width="1082" height="38" fill="#e3e2d9"/>
<g fill="#3a3e46" font-size="16" font-weight="bold">
<text x="62" y="2104" textLength="214" lengthAdjust="spacingAndGlyphs">Загальна кількість туристів</text>
<text x="313" y="2104" textLength="149" lengthAdjust="spacingAndGlyphs">Українські туристи</text>
<text x="526" y="2104" textLength="137" lengthAdjust="spacingAndGlyphs">Російські туристи</text>
<text x="804" y="2104" textLength="76" lengthAdjust="spacingAndGlyphs">Прибуток</text>
<text x="991" y="2104" textLength="24" lengthAdjust="spacingAndGlyphs">Рік</text>
</g>
<g font-weight="bold">
<text x="313" y="2189" font-size="69" fill="#9dd382" textLength="62" lengthAdjust="spacingAndGlyphs">3,9</text>
<text x="377.5" y="2189" font-size="42" fill="#9dd382" textLength="49.5" lengthAdjust="spacingAndGlyphs">млн</text>
<text x="490" y="2189" font-size="69" fill="#bfc674" textLength="61" lengthAdjust="spacingAndGlyphs">1,2</text>
<text x="555" y="2189" font-size="42" fill="#bfc674" textLength="50" lengthAdjust="spacingAndGlyphs">млн</text>
<text x="801" y="2189" font-size="69" fill="#cf7389" textLength="88" lengthAdjust="spacingAndGlyphs">$5,1</text>
<text x="894" y="2189" font-size="42" fill="#cf7389" textLength="66" lengthAdjust="spacingAndGlyphs">млрд</text>
</g>
<path fill="#9dd382" d="M313,2217 H540 V2687 H365 V2571 C365,2545 313,2480 313,2448 Z"/>
<path fill="#dfe580" d="M590,2217 H655 V2459 C655,2480 640,2505 620,2528 C605,2545 595,2555 594,2575 V2687 H560 V2217 Z"/>
<path fill="#bfc674" d="M533,2217 H601 V2459 C601,2490 590,2515 580,2540 C573,2555 570,2565 570,2580 V2687 H389 V2600 C392,2560 420,2540 470,2515 C505,2495 531,2475 533,2440 Z"/>
<path fill="#cf7389" d="M804,2217 H894 V2459 C894,2500 874,2540 874,2571 V2687 H823 V2571 C823,2540 804,2500 804,2459 Z"/>
<g fill="#2d3139">
<rect x="34" y="2215" width="1082" height="2.5"/>
<rect x="34" y="2436" width="1082" height="2.5"/>
<rect x="34" y="2657" width="1082" height="2.5"/>
</g>
<g fill="#2d3139" font-weight="bold">
<text x="62" y="2368" font-size="130" textLength="44" lengthAdjust="spacingAndGlyphs">6</text>
<text x="114" y="2366" font-size="72" textLength="95" lengthAdjust="spacingAndGlyphs">млн</text>
<text x="64.5" y="2596" font-size="130" textLength="45.5" lengthAdjust="spacingAndGlyphs">4</text>
<text x="117" y="2596" font-size="72" textLength="94" lengthAdjust="spacingAndGlyphs">млн</text>
<text x="993" y="2349" font-size="50" textLength="69" lengthAdjust="spacingAndGlyphs">2013</text>
<text x="993" y="2569" font-size="50" textLength="71" lengthAdjust="spacingAndGlyphs">2014</text>
</g>
<g font-weight="bold">
<text x="364" y="2762" font-size="69" fill="#9dd382" textLength="61" lengthAdjust="spacingAndGlyphs">0,4</text>
<text x="429" y="2762" font-size="42" fill="#9dd382" textLength="50" lengthAdjust="spacingAndGlyphs">млн</text>
<text x="497" y="2762" font-size="69" fill="#bfc674" textLength="64" lengthAdjust="spacingAndGlyphs">3,2</text>
<text x="564.5" y="2762" font-size="42" fill="#bfc674" textLength="49.5" lengthAdjust="spacingAndGlyphs">млн</text>
<text x="819" y="2762" font-size="69" fill="#cf7389" textLength="88" lengthAdjust="spacingAndGlyphs">$2,9</text>
<text x="911" y="2762" font-size="42" fill="#cf7389" textLength="66" lengthAdjust="spacingAndGlyphs">млрд</text>
</g>
<rect x="66" y="2747" width="19" height="19" fill="#dfe580"/>
<text x="95" y="2763" font-size="17" font-weight="bold" fill="#2d3139" textLength="173" lengthAdjust="spacingAndGlyphs">Туристи з інших країн</text>

<!-- CARGO -->
<text x="31" y="2872" font-size="35" font-weight="bold" fill="#2d3139" textLength="825" lengthAdjust="spacingAndGlyphs">Падіння вантажообігу в портах Криму, млн тонн</text>
<g transform="translate(35.2,3082) scale(1.026,1) translate(-37,-405)">
<path d="M157.2,282.7 L168.3,281.7 L194.2,301.7 L214.6,301.7 L216.4,316.7 L225.7,301.7 L236.8,303.3 L246,310 L255.3,330 L264.5,318.3 L271.9,318.3 L271.9,326.7 L260.8,340 L260.8,346.7 L284.9,343.3 L286.7,356.7 L296,356.7 L296,366.7 L310.8,376.7 L325.6,393.3 L325.6,403.3 L314.5,403.3 L318.2,413.3 L347.8,430 L375.5,430 L392.2,423.3 L399.6,413.3 L410.7,395 L418.1,403.3 L425.5,413.3 L438.4,400 L440.2,390 L449.5,380 L466.2,381.7 L481,385 L501.3,385 L497.6,400 L488.3,406.7 L481,416.7 L473.5,423.3 L473.5,433.3 L479.1,440 L481,450 L469.8,453.3 L462.5,463.3 L455,456.7 L445.8,466.7 L429.2,468.3 L410.7,466.7 L401.4,453.3 L370,453.3 L360.7,463.3 L358.9,475 L345.9,476.7 L338.5,481.7 L334.8,501.7 L325.6,503.3 L292.3,505 L271.9,508.3 L255.3,533.3 L242.3,546.7 L222,556.7 L201.6,566.7 L181.3,571.7 L172,566.7 L155.4,560 L142.4,546.7 L151.7,526.7 L153.5,503.3 L162.8,493.3 L170.2,490 L170.2,478.3 L159.1,460 L149.8,446.7 L118.4,446.7 L99.9,433.3 L81.4,430 L59.2,420 L51.8,426.7 L37,413.3 L37,405 L74,383.3 L75.8,375 L111,356.7 L127.6,355 L142.4,341.7 L148,346.7 L159.1,335 L173.9,331.7 L173.9,325 L157.2,310 Z" fill="#54688f"/>
<line x1="316.3" y1="355" x2="375.5" y2="426.7" stroke="#54688f" stroke-width="3.5"/>
</g>
<g fill="#cf7389">
<rect x="587" y="2920" width="5" height="55"/>
<rect x="587" y="2988" width="5" height="55"/>
<rect x="587" y="3056" width="5" height="55"/>
<rect x="587" y="3124" width="5" height="56"/>
<rect x="587" y="3192" width="5" height="56"/>
</g>
<g fill="none" stroke="#cf7389" stroke-width="2.5">
<polyline points="589,2947 130.5,2947 130.5,3106"/>
<polyline points="589,3015 267.6,3015 267.6,3184"/>
<polyline points="589,3083 487.5,3083"/>
<polyline points="589,3152 353,3152"/>
<polyline points="589,3220 161,3220"/>
</g>
<g fill="#cf7389">
<ellipse cx="130.5" cy="3106" rx="4.5" ry="5.5"/>
<ellipse cx="267.6" cy="3184" rx="4.5" ry="5.5"/>
<ellipse cx="487.5" cy="3083" rx="4.5" ry="5.5"/>
<ellipse cx="353" cy="3152" rx="4.5" ry="5.5"/>
<ellipse cx="161" cy="3220" rx="4.5" ry="5.5"/>
</g>
<g fill="#2d3139" font-size="21" font-weight="bold">
<text x="608.5" y="2934" textLength="103" lengthAdjust="spacingAndGlyphs">Євпаторія</text>
<text x="608.5" y="3004" textLength="48" lengthAdjust="spacingAndGlyphs">Ялта</text>
<text x="608.5" y="3070" textLength="49" lengthAdjust="spacingAndGlyphs">Керч</text>
<text x="608.5" y="3139" textLength="97" lengthAdjust="spacingAndGlyphs">Феодосія</text>
<text x="608.5" y="3208" textLength="129" lengthAdjust="spacingAndGlyphs">Севастополь</text>
</g>
<g fill="#9dd382">
<rect x="608.5" y="2941" width="90" height="14.5"/>
<rect x="608.5" y="3009" width="20" height="14.5"/>
<rect x="608.5" y="3078" width="297" height="14.5"/>
<rect x="608.5" y="3146" width="280" height="14.5"/>
<rect x="608.5" y="3214" width="478" height="14.5"/>
<rect x="1015" y="2915" width="20" height="20"/>
</g>
<g fill="#bfc674">
<rect x="608.5" y="2960" width="20.5" height="14.5"/>
<rect x="608.5" y="3027" width="1" height="14.5"/>
<rect x="608.5" y="3096" width="40.5" height="14.5"/>
<rect x="608.5" y="3164" width="40" height="14.5"/>
<rect x="608.5" y="3232" width="108.5" height="14.5"/>
<rect x="1015" y="2942" width="20" height="20"/>
</g>
<g fill="#2d3139" font-size="15">
<text x="704" y="2955" textLength="24" lengthAdjust="spacingAndGlyphs">0,9</text>
<text x="634" y="2974" textLength="23" lengthAdjust="spacingAndGlyphs">0,2</text>
<text x="634" y="3022" textLength="23" lengthAdjust="spacingAndGlyphs">0,2</text>
<text x="614" y="3041.5" textLength="42" lengthAdjust="spacingAndGlyphs">0,005</text>
<text x="910.5" y="3092" textLength="23" lengthAdjust="spacingAndGlyphs">2,8</text>
<text x="654" y="3110" textLength="22" lengthAdjust="spacingAndGlyphs">0,4</text>
<text x="894" y="3160" textLength="22" lengthAdjust="spacingAndGlyphs">2,6</text>
<text x="654" y="3178" textLength="22" lengthAdjust="spacingAndGlyphs">0,4</text>
<text x="1094" y="3228.5" textLength="22" lengthAdjust="spacingAndGlyphs">4,8</text>
<text x="724" y="3247" textLength="20.5" lengthAdjust="spacingAndGlyphs">1,1</text>
</g>
<g fill="#2d3139" font-size="17">
<text x="1046" y="2931" textLength="70" lengthAdjust="spacingAndGlyphs">2013 рік</text>
<text x="1046" y="2957" textLength="70" lengthAdjust="spacingAndGlyphs">2014 рік</text>
</g>

<!-- FOOTER -->
<rect x="0" y="3304" width="1150" height="49" fill="#e3e2d9"/>
<g fill="#f6c500">
<path d="M33,3318 H46 V3322 H37.5 V3329 H46 V3333 H33 Z"/>
<rect x="48" y="3322" width="4" height="11"/>
<rect x="48" y="3317.5" width="4" height="3"/>
<path d="M54,3333 L62,3318 H70 V3329 H81 V3333 Z M60,3329 H66 V3322 H64 Z"/>
</g>
<text x="89" y="3331" font-size="18" font-weight="bold" fill="#5a6170" textLength="151" lengthAdjust="spacingAndGlyphs">СЛОВО і ДІЛО</text>
<text x="89" y="3341.5" font-size="7" fill="#5a6170" textLength="151" lengthAdjust="spacingAndGlyphs">НАРОДНИЙ КОНТРОЛЬ</text>
<text x="372" y="3331" font-size="20" fill="#5a5f68" textLength="459" lengthAdjust="spacingAndGlyphs">Інформація зібрана в рамках проекту «Free Crimea»</text>
<g transform="translate(1008,3309) scale(0.09,0.11) translate(-37,-282)">
<path d="M157.2,282.7 L168.3,281.7 L194.2,301.7 L214.6,301.7 L216.4,316.7 L225.7,301.7 L236.8,303.3 L246,310 L255.3,330 L264.5,318.3 L271.9,318.3 L271.9,326.7 L260.8,340 L260.8,346.7 L284.9,343.3 L286.7,356.7 L296,356.7 L296,366.7 L310.8,376.7 L325.6,393.3 L325.6,403.3 L314.5,403.3 L318.2,413.3 L347.8,430 L375.5,430 L392.2,423.3 L399.6,413.3 L410.7,395 L418.1,403.3 L425.5,413.3 L438.4,400 L440.2,390 L449.5,380 L466.2,381.7 L481,385 L501.3,385 L497.6,400 L488.3,406.7 L481,416.7 L473.5,423.3 L473.5,433.3 L479.1,440 L481,450 L469.8,453.3 L462.5,463.3 L455,456.7 L445.8,466.7 L429.2,468.3 L410.7,466.7 L401.4,453.3 L370,453.3 L360.7,463.3 L358.9,475 L345.9,476.7 L338.5,481.7 L334.8,501.7 L325.6,503.3 L292.3,505 L271.9,508.3 L255.3,533.3 L242.3,546.7 L222,556.7 L201.6,566.7 L181.3,571.7 L172,566.7 L155.4,560 L142.4,546.7 L151.7,526.7 L153.5,503.3 L162.8,493.3 L170.2,490 L170.2,478.3 L159.1,460 L149.8,446.7 L118.4,446.7 L99.9,433.3 L81.4,430 L59.2,420 L51.8,426.7 L37,413.3 L37,405 L74,383.3 L75.8,375 L111,356.7 L127.6,355 L142.4,341.7 L148,346.7 L159.1,335 L173.9,331.7 L173.9,325 L157.2,310 Z" fill="#6a6f9a"/>
</g>
<circle cx="1025" cy="3322" r="3" fill="#d8b84a"/>
<circle cx="1033" cy="3328" r="2.5" fill="#c05a5a"/>
<text x="1056" y="3326" font-size="15" font-weight="bold" fill="#9cc86a" textLength="50" lengthAdjust="spacingAndGlyphs">FREE</text>
<text x="1040" y="3344" font-size="15" font-weight="bold" fill="#9cc86a" textLength="68" lengthAdjust="spacingAndGlyphs">CRIMEA</text>
</svg>
</body></html>
